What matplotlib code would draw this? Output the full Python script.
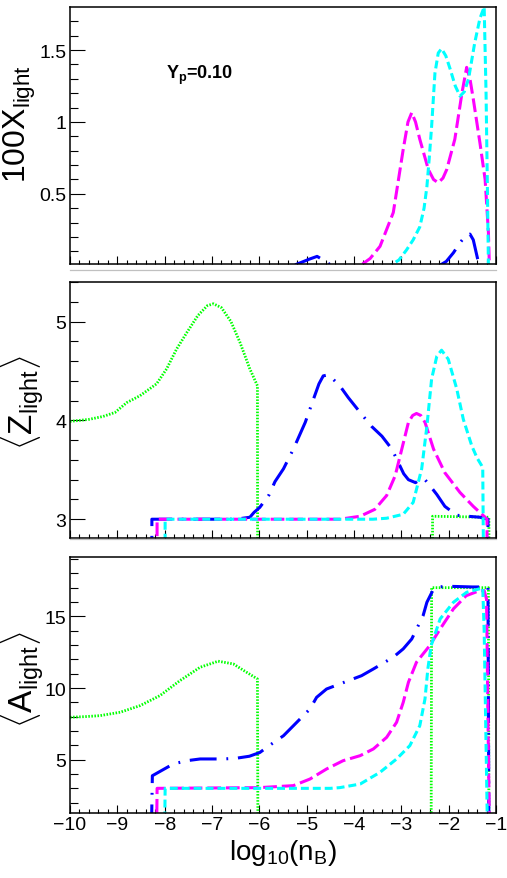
import numpy as np
import matplotlib
matplotlib.use("Agg")
import matplotlib.pyplot as plt
from matplotlib.ticker import MultipleLocator, FixedLocator, FuncFormatter
from matplotlib.lines import Line2D

plt.rcParams['font.family'] = ['Liberation Sans', 'DejaVu Sans']
plt.rcParams['mathtext.fontset'] = 'custom'
plt.rcParams['mathtext.rm'] = 'Liberation Sans'
plt.rcParams['mathtext.it'] = 'Liberation Sans:italic'
plt.rcParams['mathtext.bf'] = 'Liberation Sans:bold'

# ---------------- data ----------------
# top panel: 100 X_light
x_mag_X = [-4.2, -3.87, -3.66, -3.45, -3.17, -3.06, -2.96, -2.86, -2.78, -2.70, -2.61, -2.43, -2.32,
           -2.22, -2.12, -2.04, -1.87, -1.72, -1.62, -1.55, -1.48, -1.34, -1.23, -1.16, -1.14]
y_mag_X = [0, 0, 0.05, 0.135, 0.37, 0.6, 0.81, 1.0, 1.065, 1.0, 0.88, 0.67, 0.60,
           0.577, 0.61, 0.67, 0.88, 1.2, 1.38, 1.30, 1.16, 0.856, 0.6, 0.23, 0]
x_cya_X = [-3.6, -3.24, -3.05, -2.89, -2.75, -2.61, -2.52, -2.46, -2.41, -2.36, -2.29, -2.22, -2.15,
           -2.06, -1.97, -1.86, -1.76, -1.67, -1.58, -1.45, -1.34, -1.25, -1.21, -1.18, -1.16]
y_cya_X = [0, 0, 0.04, 0.11, 0.18, 0.27, 0.40, 0.55, 0.75, 0.97, 1.34, 1.48, 1.51,
           1.46, 1.37, 1.25, 1.18, 1.21, 1.30, 1.55, 1.72, 1.80, 1.2, 0.5, 0]
x_blu_X = [-8.3, -5.29, -5.1, -4.95, -4.78, -4.65, -4.47, -2.2, -2.05, -1.9, -1.76, -1.64,
           -1.55, -1.48, -1.39, -1.35, -1.15]
y_blu_X = [0, 0, 0.025, 0.045, 0.065, 0.04, 0, 0, 0.03, 0.09, 0.16, 0.21,
           0.22, 0.18, 0.05, 0, 0]

# middle panel: <Z_light>
x_grn_Z = [-10, -9.6, -9.3, -9.05, -8.8, -8.52, -8.17, -7.96, -7.75, -7.53, -7.3, -7.1, -6.97,
           -6.8, -6.6, -6.41, -6.2, -6.04, -6.03, -2.35, -2.34, -1.15, -1.14]
y_grn_Z = [3.99, 4.01, 4.04, 4.08, 4.18, 4.25, 4.37, 4.52, 4.72, 4.89, 5.06, 5.16, 5.18,
           5.14, 5.0, 4.79, 4.52, 4.35, 0, 0, 3.03, 3.02, 0]
x_blu_Z = [-8.28, -8.27, -6.5, -6.2, -6.11, -5.99, -5.79, -5.67, -5.49, -5.28, -5.03, -4.86, -4.74,
           -4.65, -4.55, -4.47, -4.30, -4.12, -3.87, -3.63, -3.41, -3.20, -3.03, -2.95, -2.85,
           -2.70, -2.58, -2.50, -2.38, -2.25, -2.08, -1.83, -1.6, -1.34, -1.17, -1.15]
y_blu_Z = [0, 3.0, 3.0, 3.02, 3.07, 3.12, 3.25, 3.38, 3.51, 3.71, 3.98, 4.21, 4.37,
           4.45, 4.46, 4.43, 4.35, 4.23, 4.08, 3.94, 3.84, 3.71, 3.54, 3.46, 3.40,
           3.37, 3.41, 3.40, 3.33, 3.25, 3.13, 3.04, 3.03, 3.02, 3.0, 0]
x_mag_Z = [-8.17, -8.16, -4.5, -4.30, -3.87, -3.56, -3.31, -3.13, -2.99, -2.85, -2.76, -2.68,
           -2.59, -2.50, -2.32, -2.08, -1.76, -1.48, -1.23, -1.19, -1.18]
y_mag_Z = [0, 3.0, 3.0, 3.0, 3.03, 3.10, 3.24, 3.44, 3.71, 3.98, 4.05, 4.07,
           4.05, 3.98, 3.71, 3.47, 3.27, 3.13, 3.02, 3.0, 0]
x_cya_Z = [-8.0, -7.99, -3.6, -3.31, -2.96, -2.75, -2.57, -2.46, -2.36, -2.25, -2.15, -2.01,
           -1.83, -1.69, -1.51, -1.40, -1.30, -1.28, -1.22]
y_cya_Z = [0, 3.0, 3.0, 3.01, 3.05, 3.17, 3.51, 3.94, 4.42, 4.65, 4.71, 4.62,
           4.32, 4.01, 3.74, 3.62, 3.54, 3.52, 0]

# bottom panel: <A_light>
x_grn_A = [-10, -9.7, -9.37, -8.94, -8.52, -8.1, -7.68, -7.25, -6.87, -6.55, -6.27, -6.04,
           -6.03, -2.37, -2.36, -1.16, -1.15]
y_grn_A = [7.96, 8.0, 8.07, 8.31, 8.77, 9.47, 10.51, 11.45, 11.87, 11.68, 11.1, 10.63,
           0, 0, 17.0, 17.0, 0]
x_blu_A = [-8.28, -8.26, -7.82, -7.53, -7.25, -6.76, -6.49, -6.21, -5.99, -5.77, -5.49, -5.28,
           -4.93, -4.79, -4.58, -4.12, -3.84, -3.59, -3.17, -2.96, -2.78, -2.54, -2.46, -2.32,
           -2.2, -2.04, -1.5, -1.17, -1.15]
y_blu_A = [0, 3.88, 4.70, 4.93, 5.05, 5.05, 5.1, 5.24, 5.5, 6.03, 6.67, 7.37,
           8.54, 9.35, 9.93, 10.51, 10.86, 11.33, 12.15, 12.73, 13.42, 15.05, 15.98, 16.9,
           17.05, 17.1, 17.05, 17.05, 0]
x_mag_A = [-8.17, -8.16, -6.0, -5.28, -4.93, -4.58, -4.23, -3.87, -3.59, -3.31, -3.10, -2.96,
           -2.85, -2.68, -2.40, -2.18, -1.90, -1.63, -1.35, -1.25, -1.20, -1.14]
y_mag_A = [0, 3.0, 3.05, 3.19, 3.65, 4.35, 4.93, 5.28, 5.75, 6.56, 7.61, 9.0,
           10.4, 11.8, 12.96, 14.12, 15.52, 16.44, 16.79, 16.8, 16.2, 0]
x_cya_A = [-8.0, -7.99, -4.5, -4.30, -3.87, -3.45, -3.10, -2.82, -2.61, -2.50, -2.44, -2.37,
           -2.18, -1.90, -1.62, -1.28, -1.25, -1.18]
y_cya_A = [0, 3.0, 3.0, 3.05, 3.3, 4.12, 5.05, 5.98, 7.37, 9.24, 11.33, 12.96,
           14.82, 15.98, 16.68, 16.98, 14.0, 0]

# ---------------- styles ----------------
LW = 2.2
st_grn = dict(color='#00ff00', lw=2.0, dashes=(0.55, 0.55))
st_blu = dict(color='#0000ff', lw=LW, dashes=(8.8, 3.2, 0.6, 3.2))
st_mag = dict(color='#ff00ff', lw=LW, dashes=(4.5, 1.6))
st_cya = dict(color='#00ffff', lw=LW, dashes=(2.6, 1.3))

W, H = 507, 879
fig = plt.figure(figsize=(W / 100, H / 100), dpi=100)

def pos(top, bot):
    return [70 / W, 1 - bot / H, (496 - 70) / W, (bot - top) / H]

ax1 = fig.add_axes(pos(8, 265))
ax2 = fig.add_axes(pos(283, 539))
ax3 = fig.add_axes(pos(558, 814))

def fmt(v, p):
    s = ('%g' % v)
    return s.replace('-', '\u2212')

for ax in (ax1, ax2, ax3):
    ax.set_xlim(-10, -1)
    ax.xaxis.set_major_locator(MultipleLocator(1))
    ax.xaxis.set_minor_locator(MultipleLocator(0.2))
    ax.tick_params(axis='both', which='both', direction='in', top=False, right=False,
                   labelsize=14, width=0.8, pad=2.5)
    ax.tick_params(axis='x', which='major', length=5.8)
    ax.tick_params(axis='x', which='minor', length=2.9)
    ax.tick_params(axis='y', which='major', length=10.8)
    ax.tick_params(axis='y', which='minor', length=5.4)
    for sp in ax.spines.values():
        sp.set_linewidth(1.1)
    ax.yaxis.set_major_formatter(FuncFormatter(fmt))
    ax.xaxis.set_major_formatter(FuncFormatter(fmt))

ax1.tick_params(axis='x', labelbottom=False)
ax2.tick_params(axis='x', labelbottom=False)

# top
ax1.set_ylim(0.012, 1.8)
ax1.yaxis.set_major_locator(FixedLocator([0.5, 1.0, 1.5]))
ax1.yaxis.set_minor_locator(FixedLocator(np.arange(1, 18) / 10))
ax1.plot(x_blu_X, y_blu_X, **st_blu)
ax1.plot(x_mag_X, y_mag_X, **st_mag)
ax1.plot(x_cya_X, y_cya_X, **st_cya)
ax1.text(-7.97, 1.305, r'$\mathbf{Y}_{\mathbf{p}}$=0.10', fontsize=13, fontweight='bold',
         va='baseline', ha='left')

# middle
ax2.set_ylim(2.81, 5.4)
ax2.yaxis.set_major_locator(FixedLocator([3, 4, 5]))
ax2.yaxis.set_minor_locator(MultipleLocator(0.2))
ax2.plot(x_grn_Z, y_grn_Z, **st_grn)
ax2.plot(x_blu_Z, y_blu_Z, **st_blu)
ax2.plot(x_mag_Z, y_mag_Z, **st_mag)
ax2.plot(x_cya_Z, y_cya_Z, **st_cya)

# bottom
ax3.set_ylim(1.28, 19.14)
ax3.yaxis.set_major_locator(FixedLocator([5, 10, 15]))
ax3.yaxis.set_minor_locator(MultipleLocator(1))
ax3.plot(x_grn_A, y_grn_A, **st_grn)
ax3.plot(x_blu_A, y_blu_A, **st_blu)
ax3.plot(x_mag_A, y_mag_A, **st_mag)
ax3.plot(x_cya_A, y_cya_A, **st_cya)

# axis titles
fig.text(20 / W, 1 - 124 / H, r'$\mathrm{100X}_{\mathrm{light}}$', rotation=90,
         ha='center', va='center', fontsize=23)
fig.text(22 / W, 1 - 403 / H, r'$\langle\mathrm{Z}_{\mathrm{light}}\rangle$', rotation=90,
         ha='center', va='center', fontsize=24)
fig.text(22 / W, 1 - 680 / H, r'$\langle\mathrm{A}_{\mathrm{light}}\rangle$', rotation=90,
         ha='center', va='center', fontsize=24)
fig.text(283 / W, 1 - 853 / H, r'$\mathrm{log}_{10}(\mathrm{n}_{\mathrm{B}})$',
         ha='center', va='center', fontsize=20)

# pad separators
for yy in (271, 540):
    fig.add_artist(Line2D([70 / W, 496 / W], [1 - yy / H, 1 - yy / H], color='#c0c0c0', lw=0.9))

fig.savefig('out.png', dpi=100)
